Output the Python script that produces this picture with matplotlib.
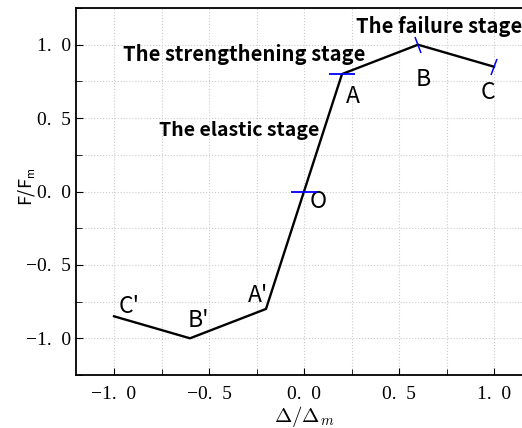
import matplotlib.pyplot as plt
import numpy as np
from matplotlib.markers import MarkerStyle
from matplotlib.transforms import Affine2D
from matplotlib.ticker import FuncFormatter, MultipleLocator

plt.rcParams['mathtext.fontset'] = 'cm'

# skeleton curve points C' B' A' O A B C
x_pts = [-1.0, -0.6, -0.2, 0.0, 0.2, 0.6, 1.0]
y_pts = [-0.85, -1.0, -0.8, 0.0, 0.8, 1.0, 0.85]
pt_names = ["C'", "B'", "A'", "O", "A", "B", "C"]

stages = ['The elastic stage', 'The strengthening stage', 'The failure stage']

fig = plt.figure(figsize=(5.22, 4.28), dpi=100)
ax = fig.add_axes([76 / 522, 53 / 428, 456 / 522, 367 / 428])

ax.plot(x_pts, y_pts, color='black', lw=1.7, zorder=3)

# blue stage marks
ax.plot(x_pts[3], y_pts[3], marker='_', ms=19, mew=1.3, color='blue', zorder=4)
ax.plot(x_pts[4], y_pts[4], marker='_', ms=19, mew=1.3, color='blue', zorder=4)
mb = MarkerStyle('|', transform=Affine2D().rotate_deg(20))
mc = MarkerStyle('|', transform=Affine2D().rotate_deg(-20))
ax.plot(x_pts[5], y_pts[5], marker=mb, ms=12, mew=1.1, color='blue', zorder=4)
ax.plot(x_pts[6], y_pts[6], marker=mc, ms=12, mew=1.1, color='blue', zorder=4)

lab_font = ['Noto Sans CJK SC', 'DejaVu Sans']
offs = [(0.079, 0.068), (0.042, 0.122), (-0.042, 0.093), (0.074, -0.068),
        (0.058, -0.154), (0.026, -0.238), (-0.032, -0.177)]
for xp, yp, nm, (dx, dy) in zip(x_pts, y_pts, pt_names, offs):
    ax.text(xp + dx, yp + dy, nm, fontsize=16.5, family=lab_font,
            ha='center', va='center')

ax.text(-0.34, 0.415, stages[0], fontsize=14, fontweight='bold',
        family=lab_font, ha='center', va='center')
ax.text(-0.316, 0.932, stages[1], fontsize=14.5, fontweight='bold',
        family=lab_font, ha='center', va='center')
ax.text(0.274, 1.122, stages[2], fontsize=14.5, fontweight='bold',
        family=lab_font, ha='left', va='center')

ax.set_xlim(-1.2, 1.2)
ax.set_ylim(-1.25, 1.25)
ax.xaxis.set_major_locator(MultipleLocator(0.5))
ax.yaxis.set_major_locator(MultipleLocator(0.5))
ax.xaxis.set_minor_locator(MultipleLocator(0.25))
ax.yaxis.set_minor_locator(MultipleLocator(0.25))


def fmt(v, pos):
    s = '%.1f' % v
    if abs(v) < 1e-9:
        s = '0.0'
    return s.replace('-', '\u2212').replace('.', '.\u2002')


ax.xaxis.set_major_formatter(FuncFormatter(fmt))
ax.yaxis.set_major_formatter(FuncFormatter(fmt))
ax.tick_params(which='both', direction='in', right=False, top=False)
ax.tick_params(which='major', length=5, labelsize=14)
ax.tick_params(which='minor', length=4)
ax.tick_params(axis='x', pad=8)
for t in ax.get_xticklabels() + ax.get_yticklabels():
    t.set_family('Liberation Serif')
ax.grid(True, which='both', color='#cccccc', ls=':', lw=0.8)
for s in ax.spines.values():
    s.set_linewidth(1.3)
ax.spines['right'].set_visible(False)

ax.set_xlabel(r'$\Delta/\Delta_m$', fontsize=15)
ax.xaxis.set_label_coords(0.5, -0.078)
ax.set_ylabel(r'F/F$_\mathsf{m}$', fontsize=13, family=lab_font)
ax.yaxis.set_label_coords(-0.085, 0.514)

fig.savefig('out.png', dpi=100)
